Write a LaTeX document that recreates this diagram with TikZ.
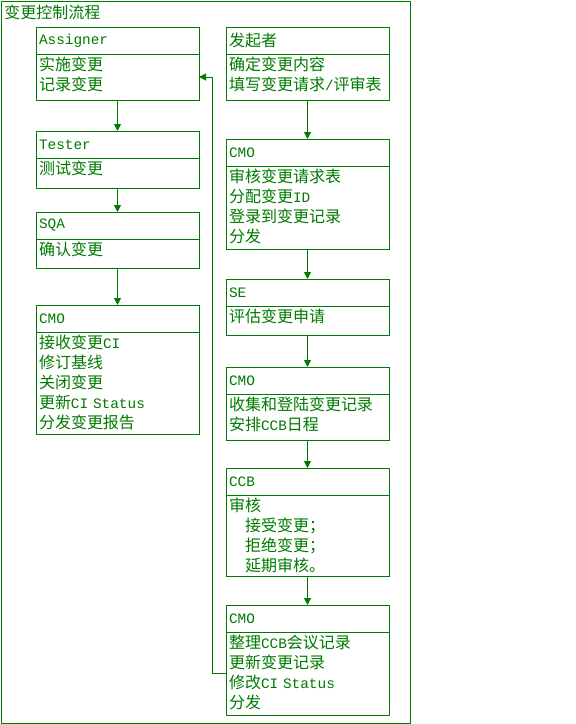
\documentclass[tikz,border=0pt]{standalone}
\usepackage{fontspec}
\setmainfont{Liberation Mono}[Scale=0.9]
\newfontfamily\cjk{Noto Sans CJK SC}
\usepackage{tikz}
\usetikzlibrary{positioning,arrows.meta}
\definecolor{flowgreen}{HTML}{007A00}
\newcommand{\zh}[1]{{\cjk #1}}

\begin{document}
\begin{tikzpicture}[x=1pt, y=-1pt, line width=1pt, color=flowgreen,
    font=\fontsize{16pt}{20pt}\selectfont,
    head/.style={draw, anchor=north west, text width=157pt, inner xsep=3pt,
                 inner ysep=0pt, outer sep=0pt, minimum height=27pt, align=left},
    body/.style={draw, text width=157pt, inner xsep=3pt, inner ysep=3pt, outer sep=0pt,
                 align=left, minimum height=#1, text depth=#1-20pt},
    flow/.style={-{Triangle[length=7pt,width=7pt]}}]
    \useasboundingbox (0,0) rectangle (576,724);
    \draw (1,1) rectangle (410,723);
    \node[anchor=west, inner sep=0pt] (title) at (4,12) {\zh{变更控制流程}};

    % left column
    \node[head] (asg) at (36,27) {Assigner};
    \node[body=46pt, below=0pt of asg] (asgb) {\zh{实施变更}\\\zh{记录变更}};
    \node[head] (tst) at (36,131) {Tester};
    \node[body=30pt, below=0pt of tst] (tstb) {\zh{测试变更}};
    \node[head] (sqa) at (36,212) {SQA};
    \node[body=29pt, below=0pt of sqa] (sqab) {\zh{确认变更}};
    \node[head] (cmoA) at (36,305) {CMO};
    \node[body=102pt, below=0pt of cmoA] (cmoAb)
        {\zh{接收变更}CI\\\zh{修订基线}\\\zh{关闭变更}\\\zh{更新}CI Status\\\zh{分发变更报告}};

    % right column
    \node[head] (ini) at (226,27) {\zh{发起者}};
    \node[body=46pt, below=0pt of ini] (inib) {\zh{确定变更内容}\\\zh{填写变更请求}/\zh{评审表}};
    \node[head] (cmoB) at (226,139) {CMO};
    \node[body=83pt, below=0pt of cmoB] (cmoBb)
        {\zh{审核变更请求表}\\\zh{分配变更}ID\\\zh{登录到变更记录}\\\zh{分发}};
    \node[head] (se) at (226,279) {SE};
    \node[body=29pt, below=0pt of se] (seb) {\zh{评估变更申请}};
    \node[head] (cmoC) at (226,367) {CMO};
    \node[body=46pt, below=0pt of cmoC] (cmoCb) {\zh{收集和登陆变更记录}\\\zh{安排}CCB\zh{日程}};
    \node[head] (ccb) at (226,468) {CCB};
    \node[body=81pt, below=0pt of ccb] (ccbb)
        {\zh{审核}\\\hspace*{16pt}\zh{接受变更；}\\\hspace*{16pt}\zh{拒绝变更；}\\\hspace*{16pt}\zh{延期审核。}};
    \node[head] (cmoD) at (226,605) {CMO};
    \node[body=83pt, below=0pt of cmoD] (cmoDb)
        {\zh{整理}CCB\zh{会议记录}\\\zh{更新变更记录}\\\zh{修改}CI Status\\\zh{分发}};

    \draw[flow] (asgb) edge (tst)
                (tstb) edge (sqa)
                (sqab) edge (cmoA)
                (inib) edge (cmoB)
                (cmoBb) edge (se)
                (seb) edge (cmoC)
                (cmoCb) edge (ccb)
                (ccbb) edge (cmoD);
    \draw[flow] (cmoDb.west) -- ++(-14,0) |- (asgb.east);
\end{tikzpicture}
\end{document}
